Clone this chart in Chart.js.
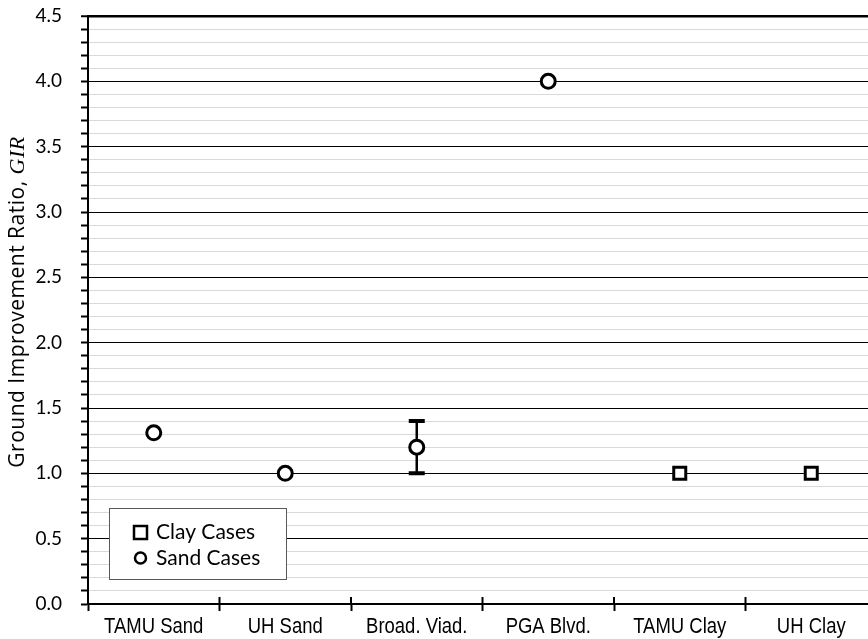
<!DOCTYPE html>
<html>
<head>
<meta charset="utf-8">
<script src="https://cdn.jsdelivr.net/npm/chart.js@4.4.0/dist/chart.umd.min.js"></script>
<style>
  html, body { margin: 0; padding: 0; background: #fff; overflow: hidden; }
  #wrap { width: 868px; height: 639px; overflow: hidden; }
</style>
</head>
<body>
<div id="wrap"><canvas id="girChart" width="900" height="639"></canvas></div>
<script>
(function(){
    "use strict";

    // categories along the x axis
    const categories = ['TAMU Sand', 'UH Sand', 'Broad. Viad.', 'PGA Blvd.', 'TAMU Clay', 'UH Clay'];
    // sand cases (circles), null where there is no sand case
    const sandValues = [1.31, 1.0, 1.2, 4.0, null, null];
    // clay cases (squares)
    const clayValues = [null, null, null, null, 1.0, 1.0];
    // range bars (Broad. Viad. only)
    const rangeLow  = [null, null, 1.0, null, null, null];
    const rangeHigh = [null, null, 1.4, null, null, null];
    // y axis
    const yMin = 0, yMax = 4.5, yMinorStep = 0.1;

    const labelFont = "Lato, 'Open Sans', sans-serif";
    const titleFont = "'Open Sans', Lato, sans-serif";
    const axisLabelFont = "'Liberation Sans', Arial, sans-serif";

    function isMajor(v) {
        return Math.round(v * 10) % 5 === 0;
    }

    /**
     * Range bars with caps, drawn under the markers
     */
    const rangeBars = {
        id: 'rangeBars',
        beforeDatasetsDraw(chart) {
            const ctx = chart.ctx;
            const x = chart.scales.x, y = chart.scales.y;
            ctx.save();
            ctx.strokeStyle = '#000';
            rangeLow.forEach((lo, i) => {
                if (lo === null) return;
                const px = x.getPixelForValue(i);
                const yLo = y.getPixelForValue(lo);
                const yHi = y.getPixelForValue(rangeHigh[i]);
                ctx.lineWidth = 2.5;
                ctx.beginPath();
                ctx.moveTo(px, yLo);
                ctx.lineTo(px, yHi);
                ctx.stroke();
                ctx.lineWidth = 4;
                ctx.beginPath();
                ctx.moveTo(px - 8, yLo); ctx.lineTo(px + 8, yLo);
                ctx.moveTo(px - 8, yHi); ctx.lineTo(px + 8, yHi);
                ctx.stroke();
            });
            ctx.restore();
        }
    };

    /**
     * Condensed category labels, axis title with italic GIR, ticks above the x axis, boxed legend
     */
    const decorations = {
        id: 'decorations',
        afterDraw(chart) {
            const ctx = chart.ctx;
            const area = chart.chartArea;
            const x = chart.scales.x;

            ctx.save();
            // tick marks also poke above the x axis at category boundaries
            ctx.strokeStyle = '#000';
            ctx.lineWidth = 2;
            ctx.beginPath();
            for (let i = 1; i < categories.length; i++) {
                const bx = (x.getPixelForValue(i - 1) + x.getPixelForValue(i)) / 2;
                ctx.moveTo(bx, area.bottom - 7);
                ctx.lineTo(bx, area.bottom);
            }
            ctx.stroke();

            // category labels, narrow like Arial Narrow
            ctx.fillStyle = '#000';
            ctx.font = '22px ' + axisLabelFont;
            ctx.textAlign = 'center';
            ctx.textBaseline = 'alphabetic';
            categories.forEach((c, i) => {
                ctx.save();
                ctx.translate(x.getPixelForValue(i), area.bottom + 29);
                ctx.scale(0.84, 1);
                ctx.fillText(x.getLabelForValue(i), 0, 0);
                ctx.restore();
            });
            ctx.restore();

            // y axis title
            ctx.save();
            const partA = 'Ground Improvement Ratio, ';
            const partB = 'GIR';
            ctx.translate(18, 302);
            ctx.rotate(-Math.PI / 2);
            ctx.fillStyle = '#000';
            ctx.textBaseline = 'middle';
            ctx.letterSpacing = '0.5px';
            ctx.font = '21px ' + titleFont;
            const wA = ctx.measureText(partA).width;
            ctx.font = 'italic 22px "Liberation Serif", serif';
            const wB = ctx.measureText(partB).width;
            const start = -(wA + wB) / 2;
            ctx.font = '21px ' + titleFont;
            ctx.textAlign = 'left';
            ctx.fillText(partA, start, 0);
            ctx.font = 'italic 22px "Liberation Serif", serif';
            ctx.fillText(partB, start + wA, 0);
            ctx.restore();

            // legend box
            ctx.save();
            ctx.fillStyle = '#fff';
            ctx.fillRect(109, 508, 178, 72);
            ctx.strokeStyle = '#595959';
            ctx.lineWidth = 1;
            ctx.strokeRect(109.5, 508.5, 177, 71);
            ctx.strokeStyle = '#000';
            ctx.lineWidth = 2.5;
            ctx.strokeRect(134, 526, 13, 13);
            ctx.beginPath();
            ctx.arc(140.5, 558, 5.5, 0, Math.PI * 2);
            ctx.stroke();
            ctx.fillStyle = '#000';
            ctx.font = '21px ' + labelFont;
            ctx.textBaseline = 'alphabetic';
            ctx.textAlign = 'left';
            ctx.fillText('Clay Cases', 156, 539);
            ctx.fillText('Sand Cases', 156, 565);
            ctx.restore();
        }
    };

    function createChart() {
        const ctx = document.getElementById('girChart').getContext('2d');
        return new Chart(ctx, {
            type: 'line',
            data: {
                labels: categories,
                datasets: [{
                    label: 'Clay Cases',
                    data: clayValues,
                    showLine: false,
                    pointStyle: 'rect',
                    pointRadius: 8.5,
                    pointHoverRadius: 8.5,
                    pointBorderWidth: 3,
                    pointBackgroundColor: '#fff',
                    pointBorderColor: '#000',
                }, {
                    label: 'Sand Cases',
                    data: sandValues,
                    showLine: false,
                    pointStyle: 'circle',
                    pointRadius: 7,
                    pointHoverRadius: 7,
                    pointBorderWidth: 3,
                    pointBackgroundColor: '#fff',
                    pointBorderColor: '#000',
                }]
            },
            options: {
                responsive: false,
                animation: false,
                layout: { padding: { top: 16, right: 23, left: 0, bottom: 0 } },
                scales: {
                    x: {
                        offset: true,
                        afterFit: (scale) => { scale.height = 35; },
                        border: { color: '#000', width: 2 },
                        grid: {
                            offset: true,
                            drawOnChartArea: false,
                            tickLength: 7,
                            tickColor: '#000',
                            tickWidth: 2,
                        },
                        ticks: { display: false }
                    },
                    y: {
                        min: yMin,
                        max: yMax,
                        afterFit: (scale) => {
                            scale.width = 88;
                            scale.paddingTop = 0;
                            scale.paddingBottom = 0;
                        },
                        border: { color: '#000', width: 2 },
                        grid: {
                            color: (c) => isMajor(c.tick.value) ? '#000' : '#d9d9d9',
                            lineWidth: (c) => Math.abs(c.tick.value - yMax) < 1e-6 ? 2.5 : 1,
                            tickColor: '#000',
                            tickLength: 7,
                            tickWidth: 2,
                        },
                        ticks: {
                            stepSize: yMinorStep,
                            maxTicksLimit: 100,
                            autoSkip: false,
                            color: '#000',
                            padding: 19,
                            font: { family: labelFont, size: 19 },
                            callback: (v) => isMajor(v) ? Number(v).toFixed(1) : ''
                        }
                    }
                },
                plugins: {
                    legend: { display: false },
                    tooltip: { enabled: false }
                }
            },
            plugins: [rangeBars, decorations]
        });
    }

    createChart();
})();
</script>
</body>
</html>
